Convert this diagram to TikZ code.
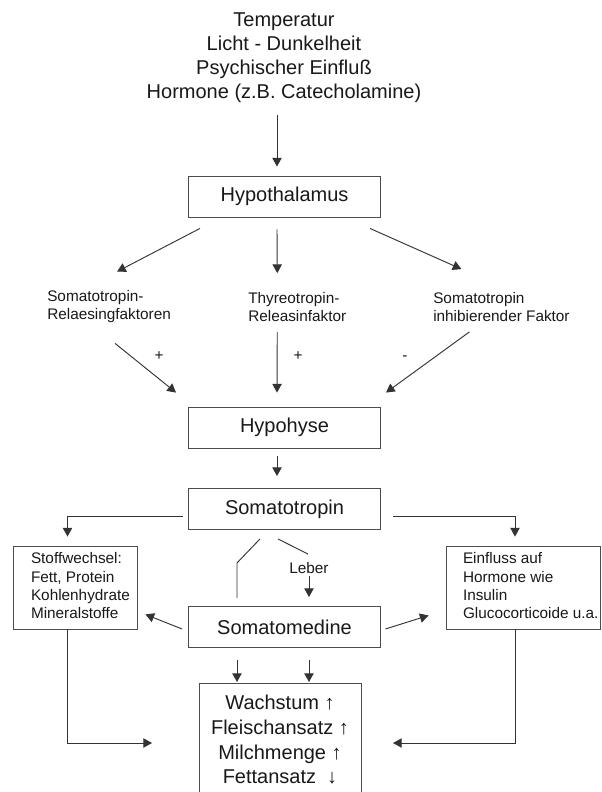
\documentclass[tikz,border=0pt]{standalone}
\usepackage{fontspec}
\setmainfont{Liberation Sans}
\usetikzlibrary{arrows.meta}
\tikzset{
  lnc/.style={draw=black!80, line width=0.7pt},
  arr/.style={lnc, -{Triangle[length=6.5pt,width=7pt]}},
  mainbox/.style={draw=black!70, line width=0.65pt, minimum width=144pt, minimum height=30.75pt, inner sep=0pt, font=\fontsize{15pt}{18pt}\selectfont, text=black!90},
  sidebox/.style={draw=black!70, line width=0.65pt, inner sep=0pt, minimum height=62.25pt, font=\fontsize{11.5pt}{13.75pt}\selectfont, text=black!90},
  smalllbl/.style={inner sep=0pt, align=left, font=\fontsize{11.5pt}{13.5pt}\selectfont, text=black!90},
  signlbl/.style={inner sep=0pt, font=\fontsize{11.5pt}{13.5pt}\selectfont, text=black!90},
}
\begin{document}
\begin{tikzpicture}[x=0.75pt,y=-0.75pt]
\useasboundingbox (0,0) rectangle (601,792);
\clip (0,0) rectangle (601,792);
\fill[white] (0,0) rectangle (601,792);

\node[inner sep=0pt, align=center, font=\fontsize{15pt}{18pt}\selectfont, text=black!90] (inputs) at (284,57.5)
  {Temperatur\\Licht - Dunkelheit\\Psychischer Einfluß\\Hormone (z.B. Catecholamine)};

\node[mainbox] (hyp) at (284.5,196.5) {Hypothalamus};
\node[smalllbl, anchor=west] (srf) at (47,307) {Somatotropin-\\Relaesingfaktoren};
\node[smalllbl, anchor=west] (trf) at (248,307) {Thyreotropin-\\Releasinfaktor};
\node[smalllbl, anchor=west] (sif) at (433,307) {Somatotropin\\inhibierender Faktor};
\node[signlbl] (p1) at (159,356) {+};
\node[signlbl] (p2) at (298,356) {+};
\node[signlbl] (m1) at (405,358) {-};
\node[mainbox] (hypo) at (284.5,427.5) {Hypohyse};
\node[mainbox] (somato) at (284.5,509) {Somatotropin};
\node[mainbox] (smed) at (284.5,627) {Somatomedine};
\node[signlbl] (leber) at (309,568) {Leber};

\node[sidebox, minimum width=93pt] (stoff) at (75,587.5)
  {\makebox[93pt][l]{\hspace*{13.5pt}\raisebox{-1.5pt}{\begin{tabular}{@{}l@{}}Stoffwechsel:\\Fett, Protein\\Kohlenhydrate\\Mineralstoffe\end{tabular}}}};
\node[sidebox, minimum width=115.5pt] (einfl) at (523,587.5)
  {\makebox[115.5pt][l]{\hspace*{12.75pt}\raisebox{-1.5pt}{\begin{tabular}{@{}l@{}}Einfluss auf\\Hormone wie\\Insulin\\Glucocorticoide u.a.\end{tabular}}}};

\node[draw=black!70, line width=0.65pt, minimum width=121.5pt, inner xsep=0pt, inner ysep=9pt, align=center,
      font=\fontsize{15pt}{18.4pt}\selectfont, text=black!90, anchor=north] (result) at (280,683)
  {Wachstum ↑\\Fleischansatz ↑\\Milchmenge ↑\\Fettansatz \ ↓};

% connectors
\draw[arr] ([shift={(-7,12.25)}]inputs.south) -- ([shift={(-7.5,-9)}]hyp.north);
\draw[arr] ([shift={(-84.5,11)}]hyp.south) -- ([shift={(8,-19)}]srf.north);
\draw[arr] ([shift={(-7.5,12)}]hyp.south) -- ([shift={(-20,-19)}]trf.north);
\draw[arr] ([shift={(85.5,11)}]hyp.south) -- ([shift={(-40,-23)}]sif.north);

\draw[arr] ([shift={(6,20)}]srf.south) -- ([shift={(-108.5,-14)}]hypo.north);
\draw[arr] ([shift={(-20,10)}]trf.south) -- ([shift={(-7.5,-14)}]hypo.north);
\draw[arr] ([shift={(-32,10)}]sif.south) -- ([shift={(101.5,-14)}]hypo.north);

\draw[arr] ([shift={(-7.5,8)}]hypo.south) -- ([shift={(-7.5,-12)}]somato.north);

\draw[arr] ([shift={(-5,7)}]somato.west) -| ([shift={(-7.5,-9)}]stoff.north);
\draw[arr] ([shift={(12.5,7)}]somato.east) -| ([shift={(-8,-9)}]einfl.north);

\draw[lnc] ([shift={(-24.5,9)}]somato.south) -- ([shift={(-47.5,33)}]somato.south) -- ([shift={(-47.5,-8)}]smed.north);
\draw[lnc] ([shift={(-6.5,9)}]somato.south) -- ([shift={(-1,-8)}]leber.north);
\draw[arr] ([shift={(0,2.5)}]leber.south) -- ([shift={(24.5,-9)}]smed.north);

\draw[arr] ([shift={(-6,2)}]smed.west) -- ([shift={(8,-15)}]stoff.south east);
\draw[arr] ([shift={(4.5,2)}]smed.east) -- ([shift={(-17,-14)}]einfl.south west);

\draw[arr] ([shift={(-47.5,12)}]smed.south) -- ([shift={(-43,-1)}]result.north);
\draw[arr] ([shift={(24.5,12)}]smed.south) -- ([shift={(29,-1)}]result.north);

\draw[arr] ([xshift=-5.625pt]stoff.south) |- ([shift={(-128,60)}]result.north);
\draw[arr] ([xshift=-6pt]einfl.south) |- ([shift={(113,60)}]result.north);
\end{tikzpicture}
\end{document}
